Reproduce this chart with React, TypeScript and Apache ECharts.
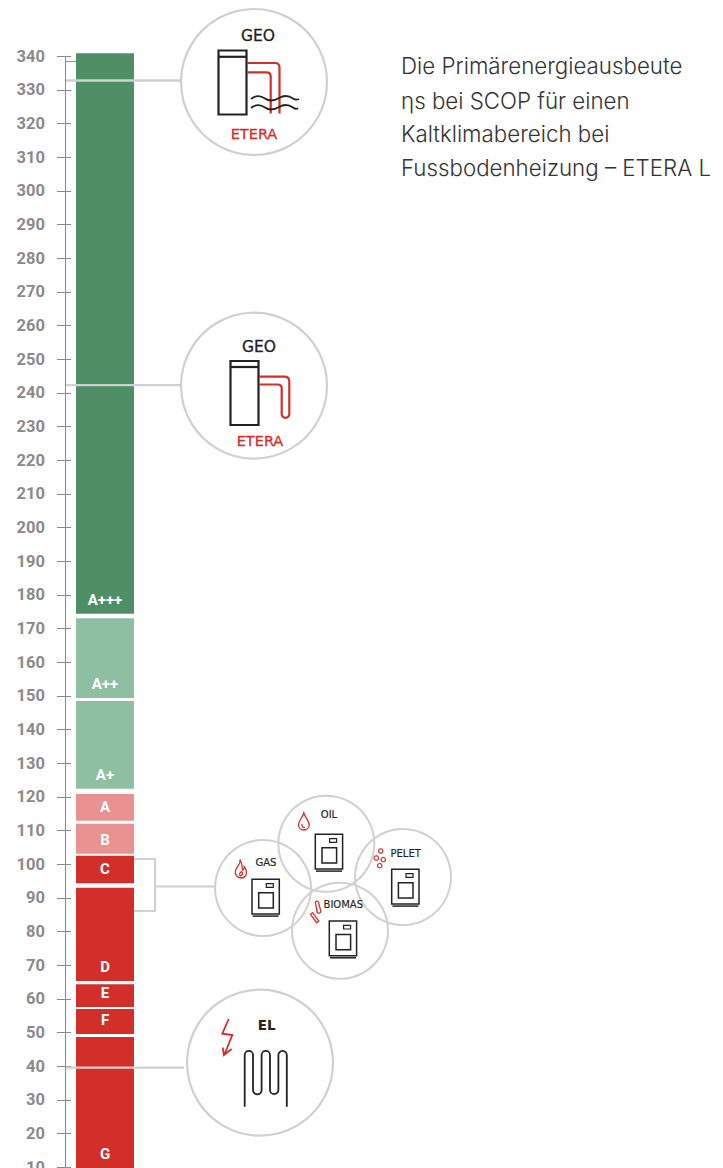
import React, { useEffect, useRef } from "react";
import * as echarts from "echarts";

const RED = "#d32f2a";
const GREY = "#d0d0d0";
const DARK = "#222222";

const gradeNames = ["A+++", "A++", "A+", "A", "B", "C", "D", "E", "F", "G"];
const gradeLow = [174.4, 149.4, 122.4, 112.9, 103.1, 94.4, 65.3, 57.6, 49.6, 9.8];
const gradeHigh = [340.9, 173.1, 148.5, 120.9, 112.0, 102.5, 93.0, 64.4, 57.0, 48.7];
const gradeColors = ["#4f8f66", "#8fbfa2", "#8fbfa2", "#e99292", "#e99292", RED, RED, RED, RED, RED];
const leaderValues = [332.8, 242.3, 39.6];
const leaderEnds = [181, 181, 184];
const introLines = [
  "Die Primärenergieausbeute",
  "ηs bei SCOP für einen",
  "Kaltklimabereich bei",
  "Fussbodenheizung – ETERA L",
];

echarts.graphic.registerShape("wave1", echarts.graphic.extendPath(
  "M251 99 C256 95 260 95 265 98.5 C270 102 274 101 279 98 C284 95 288 95 293 98.5 C295 100 297 100 299 99 M251 108 C256 104 260 104 265 107.5 C270 111 274 110 279 107 C284 104 288 104 293 107.5 C295 109 297 109 298 108", {}));
echarts.graphic.registerShape("pipes1", echarts.graphic.extendPath(
  "M247 63 H275 Q279.5 63 279.5 67.5 V113.5 M247 72.3 H266.5 Q270.7 72.3 270.7 76.5 V113.5", {}));
echarts.graphic.registerShape("pipes2", echarts.graphic.extendPath(
  "M259 376.7 H284.5 Q289.3 376.7 289.3 381.5 V414 A3.8 3.8 0 0 1 281.7 414 V388.5 Q281.7 384.5 277.7 384.5 H259", {}));
echarts.graphic.registerShape("coil", echarts.graphic.extendPath(
  "M244.7 1106.7 V1055 A4.15 4.15 0 0 1 253 1055 V1090 A4.3 4.3 0 0 0 261.6 1090 V1055 A4.2 4.2 0 0 1 270 1055 V1090 A4.2 4.2 0 0 0 278.4 1090 V1055 A4.2 4.2 0 0 1 286.8 1055 V1106.7", {}));
echarts.graphic.registerShape("bolt", echarts.graphic.extendPath(
  "M228.7 1019 L222.3 1033.7 L232.3 1035 L224.3 1055 M222.7 1047.5 L223.9 1055 L231.7 1049", {}));
echarts.graphic.registerShape("flame", echarts.graphic.extendPath(
  "M240 859.5 C241 864 237 866 235.5 870.5 C234.5 875 237.5 878 241 878 C245 878 247 875 246.3 871 C246 869 245 867.5 244.3 866.5 C244.3 868.5 243.5 870 242.5 870 C242.5 866.5 242 863 240 859.5 Z M240.5 876 C239 875 239.5 873 241.5 871.5 C243 873 243 875.5 240.5 876", {}));
echarts.graphic.registerShape("drop", echarts.graphic.extendPath(
  "M303.8 813 C302.5 817.5 298.5 821 298.5 824.8 C298.5 828 301 830 303.8 830 C306.8 830 309.2 828 309.2 824.8 C309.2 821 305.2 817.5 303.8 813 Z M302 824 C301.5 826.5 303 828 305 827.5", {}));
echarts.graphic.registerShape("logs", echarts.graphic.extendPath(
  "M310.6 914.3 L312.6 912.6 L318.8 921 L316.6 922.7 Z M315.4 902.5 C315.5 900.8 318.3 900.6 318.5 902.4 L320.8 911 C321 913.4 317.6 914 317.2 912 Z", {}));

const boilerBoxes = [
  [252, 879.3],
  [315.3, 834.3],
  [391.7, 869.3],
  [329.3, 921],
];
const fuelCircles = [
  [263, 888],
  [326.3, 843.7],
  [403, 877],
  [340, 930.7],
];
const fuelLabels = [
  ["GAS", 266, 862.5],
  ["OIL", 329, 814.5],
  ["PELET", 405.7, 853],
  ["BIOMAS", 343.3, 904],
];
const bigCircles = [
  [254, 82],
  [254, 385.7],
  [260, 1062.7],
];
const pellets = [
  [380.7, 851],
  [376.3, 858],
  [383.3, 859.7],
  [379.7, 865.7],
];

function stroke(color: string, lineWidth: number) {
  return { fill: "none", stroke: color, lineWidth };
}

function boiler([x, y]: number[]) {
  return [
    { type: "rect", shape: { x, y, width: 27.3, height: 34.7 }, style: stroke(DARK, 1.5) },
    { type: "rect", shape: { x: x + 6.7, y: y + 13.4, width: 14.6, height: 15.3 }, style: stroke(DARK, 1.5) },
    { type: "rect", shape: { x: x + 14.3, y: y + 4.4, width: 7, height: 3.6 }, style: stroke(DARK, 1.2) },
    { type: "line", shape: { x1: x + 0.7, y1: y + 36.8, x2: x + 26.7, y2: y + 36.8 }, style: stroke(DARK, 1.5) },
  ];
}

function label(text: string, x: number, y: number, font: string, fill: string, weight = 0.3) {
  return {
    type: "text",
    style: { text, x, y, font, fill, stroke: fill, lineWidth: weight, textAlign: "center", textVerticalAlign: "middle" },
  };
}

function buildGraphics() {
  const items: any[] = [];
  bigCircles.forEach(([cx, cy]) =>
    items.push({ type: "circle", shape: { cx, cy, r: 73 }, style: stroke(GREY, 2.2) })
  );
  fuelCircles.forEach(([cx, cy]) =>
    items.push({ type: "circle", shape: { cx, cy, r: 48 }, style: stroke(GREY, 2) })
  );
  boilerBoxes.forEach((b) => items.push(...boiler(b)));
  fuelLabels.forEach(([t, x, y]) =>
    items.push(label(t as string, x as number, y as number, "10px 'DejaVu Sans'", DARK, 0.15))
  );

  items.push(
    { type: "polyline", shape: { points: [[134, 859], [155, 859], [155, 911], [134, 911]] }, style: stroke(GREY, 2) },
    { type: "line", shape: { x1: 155, y1: 886.5, x2: 215, y2: 886.5 }, style: stroke(GREY, 2) },

    { type: "rect", shape: { x: 218.5, y: 50.5, width: 28, height: 64 }, style: stroke(DARK, 2.2) },
    { type: "line", shape: { x1: 218.5, y1: 56.8, x2: 246.5, y2: 56.8 }, style: stroke(DARK, 2.2) },
    { type: "pipes1", style: stroke(RED, 2.2) },
    { type: "wave1", style: stroke(DARK, 1.8) },
    label("GEO", 258, 36, "15.5px 'DejaVu Sans'", DARK),
    label("ETERA", 254, 134, "14.5px 'DejaVu Sans'", RED),

    { type: "rect", shape: { x: 230.5, y: 361, width: 28, height: 64 }, style: stroke(DARK, 2.2) },
    { type: "line", shape: { x1: 230.5, y1: 367, x2: 258.5, y2: 367 }, style: stroke(DARK, 2.2) },
    { type: "pipes2", style: stroke(RED, 2.2) },
    label("GEO", 259, 346.5, "15.5px 'DejaVu Sans'", DARK),
    label("ETERA", 260, 440.5, "14.5px 'DejaVu Sans'", RED),

    { type: "coil", style: stroke(DARK, 1.8) },
    { type: "bolt", style: stroke(RED, 1.8) },
    label("EL", 266.7, 1024.5, "bold 13.5px 'DejaVu Sans'", DARK, 0),

    { type: "flame", style: stroke(RED, 1.3) },
    { type: "drop", style: stroke(RED, 1.3) },
    { type: "logs", style: stroke(RED, 1.3) },
    { type: "line", shape: { x1: 65, y1: 61.6, x2: 76, y2: 61.6 }, style: stroke("#8a8a8c", 1) }
  );
  pellets.forEach(([cx, cy]) =>
    items.push({ type: "circle", shape: { cx, cy, r: 2.2 }, style: stroke(RED, 1.2) })
  );
  introLines.forEach((text, i) =>
    items.push({
      type: "text",
      style: {
        text,
        x: 401,
        y: [65, 100, 133, 167][i],
        font: "300 22.3px Inter",
        fill: "#333333",
        textAlign: "left",
        textVerticalAlign: "middle",
      },
    })
  );
  return items;
}

export default function App() {
  const ref = useRef<HTMLDivElement>(null);
  useEffect(() => {
    if (!ref.current) return;
    const chart = echarts.init(ref.current, undefined, { renderer: "svg" });
    const valueAxis = {
      type: "value",
      min: 10,
      max: 340,
      interval: 10,
      splitLine: { show: false },
    };
    chart.setOption({
      animation: false,
      grid: { left: 65.5, right: 589, top: 56.2, height: 1111.1, containLabel: false, outerBoundsMode: "none" },
      xAxis: { type: "category", data: ["ηs"], show: false },
      yAxis: [
        {
          ...valueAxis,
          axisLine: { show: true, lineStyle: { color: "#8a8a8c", width: 1 } },
          axisTick: { show: true, length: 8.5, lineStyle: { color: "#8a8a8c", width: 1 } },
          axisLabel: {
            margin: 20.5,
            color: "#8a8a8c",
            fontFamily: "Roboto",
            fontWeight: 700,
            fontSize: 16.5,
            hideOverlap: false,
            showMinLabel: true,
            showMaxLabel: true,
          },
        },
        {
          ...valueAxis,
          position: "left",
          axisLine: { show: false },
          axisTick: { show: true, inside: true, length: 5.5, lineStyle: { color: "#8a8a8c", width: 1 } },
          axisLabel: { show: false },
        },
      ],
      graphic: buildGraphics(),
      series: [
        {
          type: "custom",
          name: "Klassen",
          silent: true,
          z: 3,
          data: gradeNames.map((n, i) => [0, gradeLow[i], gradeHigh[i], n, gradeColors[i]]),
          renderItem: (_p: any, api: any) => {
            const bottom = api.coord([0, api.value(1)]);
            const top = api.coord([0, api.value(2)]);
            return {
              type: "group",
              children: [
                {
                  type: "rect",
                  shape: { x: 76, y: top[1], width: 58, height: bottom[1] - top[1] },
                  style: { fill: api.value(4) },
                },
                {
                  type: "text",
                  style: {
                    text: api.value(3),
                    x: 105,
                    y: bottom[1] - 14,
                    font: "700 15px Roboto",
                    fill: "#ffffff",
                    textAlign: "center",
                    textVerticalAlign: "middle",
                  },
                },
              ],
            };
          },
        },
        {
          type: "custom",
          name: "Leitlinien",
          silent: true,
          z: 4,
          data: leaderValues.map((v, i) => [0, v, leaderEnds[i]]),
          renderItem: (_p: any, api: any) => {
            const y = api.coord([0, api.value(1)])[1];
            return {
              type: "line",
              shape: { x1: 66, y1: y, x2: api.value(2), y2: y },
              style: { stroke: GREY, lineWidth: 2.4 },
            };
          },
        },
      ],
    });
    return () => chart.dispose();
  }, []);
  return <div ref={ref} style={{ position: "absolute", left: 0, top: 0, width: 723, height: 1168 }} />;
}
